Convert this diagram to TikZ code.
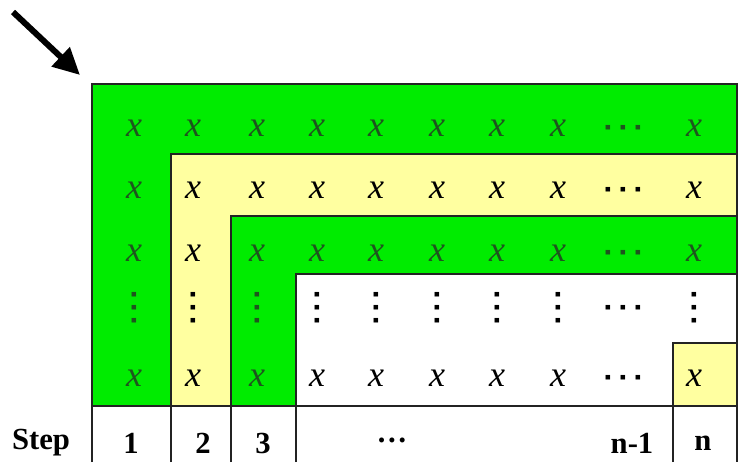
\documentclass[tikz,border=0pt]{standalone}
\usepackage{fontspec}
\setmainfont{Liberation Serif}
\usetikzlibrary{arrows.meta}
\definecolor{stepgreen}{RGB}{0,236,0}
\definecolor{stepyellow}{RGB}{255,255,160}
\definecolor{darkx}{RGB}{30,85,30}
\definecolor{rulecol}{RGB}{35,35,35}
\newcommand\coldots{\fontsize{7}{7}\selectfont\vbox{\baselineskip=9.9pt\lineskiplimit=-20pt\hbox{■}\hbox{■}\hbox{■}}}
\newcommand\rowdots{\fontsize{7}{7}\selectfont ■\kern7pt■\kern7pt■}
\begin{document}
\begin{tikzpicture}[x=0.75pt,y=-0.75pt,
cell/.style={font=\fontsize{27}{27}\selectfont\itshape,inner sep=0pt},
steplabel/.style={font=\fontsize{23}{23}\selectfont\bfseries,inner sep=0pt},
rules/.style={draw=rulecol,line width=1.5pt}]
\useasboundingbox (0,0) rectangle (738,472);
% coloured bands
\fill[stepgreen] (92,84) rectangle (737,406);
\fill[stepyellow] (171,154) rectangle (737,406);
\fill[stepgreen] (231,216) rectangle (737,406);
\fill[white] (296,274) rectangle (737,406);
\fill[stepyellow] (673,343) rectangle (737,406);
% borders
\draw[rules] (92,462) -- (92,84) -- (737,84) -- (737,462);
\draw[rules] (171,462) -- (171,154) -- (737,154);
\draw[rules] (231,462) -- (231,216) -- (737,216);
\draw[rules] (296,462) -- (296,274) -- (737,274);
\draw[rules] (673,462) -- (673,343) -- (737,343);
\draw[rules] (92,406) -- (737,406);
% matrix entries
\foreach \r/\ry in {1/128,2/190,3/253,4/308,5/378}
 \foreach \c/\cx in {1/134,2/193,3/257,4/317,5/376,6/437,7/497,8/558,9/623,10/694}{
  \pgfmathtruncatemacro\m{min(\r,\c)}
  \ifnum\m=2 \def\tc{black}\else\ifnum\m>3 \def\tc{black}\else\def\tc{darkx}\fi\fi
  \ifnum\c=9 \def\txt{\upshape\rowdots}\else\ifnum\r=4 \def\txt{\upshape\coldots}\else\def\txt{x}\fi\fi
  \node[cell,text=\tc] (e-\r-\c) at (\cx,\ry) {\txt};
 }
% step row
\node[steplabel] (steptitle) at (41,443) {Step};
\node[steplabel] (s1) at (131,443) {1};
\node[steplabel] (s2) at (203,443) {2};
\node[steplabel] (s3) at (263,443) {3};
\node[steplabel] (sdots) at (392,440) {…};
\node[steplabel] (snm) at (632,443) {n-1};
\node[steplabel] (sn) at (703,443) {n};
% pointer
\coordinate (tail) at (13,12);
\coordinate (corner) at (80,75);
\draw[line width=4.5pt,-{Triangle[length=20pt,width=19pt]}] (tail) -- (corner);
\end{tikzpicture}
\end{document}
